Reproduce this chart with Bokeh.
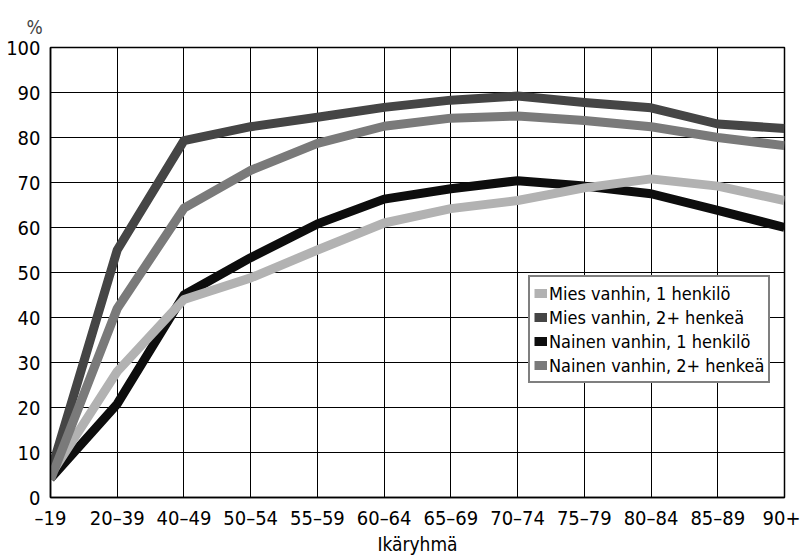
from bokeh.plotting import figure
from bokeh.models import FixedTicker, Legend, LegendItem
from bokeh.embed import file_html
from bokeh.resources import INLINE

categories = ["–19", "20–39", "40–49", "50–54", "55–59", "60–64", "65–69",
              "70–74", "75–79", "80–84", "85–89", "90+"]
mies_1 = [5, 28, 44, 48.8, 55, 61, 64.2, 66, 68.8, 70.8, 69.2, 66]
mies_2 = [5.5, 55, 79.3, 82.4, 84.5, 86.7, 88.3, 89.2, 87.8, 86.6, 83, 82]
nainen_1 = [4.2, 20.8, 45, 53.3, 60.8, 66.3, 68.6, 70.4, 69.2, 67.5, 63.8, 60]
nainen_2 = [4, 42, 64.3, 72.7, 78.7, 82.5, 84.3, 84.8, 83.8, 82.4, 80, 78.2]
yticks = list(range(0, 101, 10))

x = list(range(len(categories)))
FONT = "DejaVu Sans Condensed"

p = figure(width=800, height=557, output_backend="svg", toolbar_location=None,
           x_range=(0, len(categories) - 1), y_range=(0, 100),
           min_border_left=50, min_border_right=16, min_border_top=47, min_border_bottom=60)
p.background_fill_color = "white"
p.border_fill_color = "white"
p.outline_line_color = "black"
p.outline_line_width = 1.5

p.title.text = "%"
p.title.text_font = FONT
p.title.text_font_size = "19px"
p.title.text_font_style = "normal"
p.title.text_line_height = 1.0
p.title.align = "left"
p.title.offset = -24
p.title.standoff = 20

for g in (p.xgrid, p.ygrid):
    g.grid_line_color = "black"
    g.grid_line_width = 1
    g.grid_line_alpha = 1

p.xaxis.ticker = FixedTicker(ticks=x)
p.xaxis.major_label_overrides = {i: c for i, c in enumerate(categories)}
p.yaxis.ticker = FixedTicker(ticks=yticks)
for ax in (p.xaxis[0], p.yaxis[0]):
    ax.axis_line_color = "black"
    ax.axis_line_width = 1.5
    ax.major_tick_line_color = None
    ax.minor_tick_line_color = None
    ax.major_tick_out = 0
    ax.major_tick_in = 0
    ax.major_label_text_font = FONT
    ax.major_label_text_font_size = "20px"
    ax.major_label_text_color = "black"
p.xaxis.major_label_standoff = 8
p.yaxis.major_label_standoff = 10
p.xaxis.axis_label = "Ikäryhmä"
p.xaxis.axis_label_text_font = FONT
p.xaxis.axis_label_text_font_size = "19px"
p.xaxis.axis_label_text_font_style = "normal"
p.xaxis.axis_label_text_color = "black"
p.xaxis.axis_label_standoff = 0

lw = 9
r_n1 = p.line(x, nainen_1, line_color="#0d0d0d", line_width=lw, line_join="round")
r_m1 = p.line(x, mies_1, line_color="#b2b2b2", line_width=lw, line_join="round")
r_m2 = p.line(x, mies_2, line_color="#454545", line_width=lw, line_join="round")
r_n2 = p.line(x, nainen_2, line_color="#7a7a7a", line_width=lw, line_join="round")

legend = Legend(items=[
    LegendItem(label="Mies vanhin, 1 henkilö", renderers=[r_m1]),
    LegendItem(label="Mies vanhin, 2+ henkeä", renderers=[r_m2]),
    LegendItem(label="Nainen vanhin, 1 henkilö", renderers=[r_n1]),
    LegendItem(label="Nainen vanhin, 2+ henkeä", renderers=[r_n2]),
], location=(478, 114))
legend.label_text_font = FONT
legend.label_text_font_size = "18px"
legend.label_text_color = "black"
legend.border_line_color = "black"
legend.border_line_width = 2
legend.background_fill_color = "white"
legend.background_fill_alpha = 1
legend.padding = 4
legend.spacing = 0
legend.margin = 0
legend.glyph_width = 13
legend.glyph_height = 24
legend.label_height = 24
legend.label_standoff = 2
p.add_layout(legend, "center")

open("out.html", "w").write(file_html(p, INLINE))
